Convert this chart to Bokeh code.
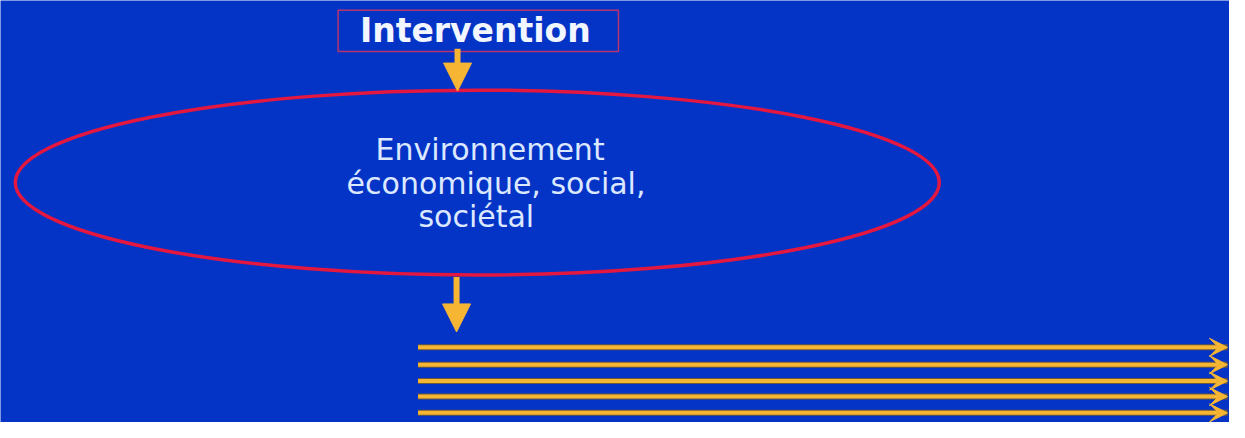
from bokeh.plotting import figure
from bokeh.models import Range1d, Arrow, VeeHead, NormalHead, ColumnDataSource
from bokeh.core.properties import value
from bokeh.embed import file_html
from bokeh.resources import INLINE

# ---- diagram content (reference pixel space, y grows downward) ----
BG = "#0434c6"
ORANGE = "#f6b533"

title_label = ["Intervention"]
title_box_x = [342, 626]          # left, right
title_box_y = [10, 53]            # top, bottom
title_center = [481, 31]

ellipse_center = [483, 189]
ellipse_size = [936, 192]

env_lines = ["Environnement", "économique, social,", "sociétal"]
env_x = [496, 502, 482]
env_y = [155, 190, 224]

down_arrow_x = [463, 462]
down_arrow_y0 = [50, 287]
down_arrow_y1 = [94, 344]

row_y = [360, 378, 395, 411, 428]
row_x0 = [423, 423, 423, 423, 423]
row_x1 = [1243, 1243, 1243, 1243, 1243]

W, H = 1229, 422
p = figure(width=W, height=H, output_backend="svg", toolbar_location=None,
           x_range=Range1d(0, 1245), y_range=Range1d(438, 0),
           min_border=0, background_fill_color=BG, border_fill_color=BG,
           outline_line_color=None)
p.axis.visible = False
p.grid.visible = False

# Intervention box
p.quad(left=[title_box_x[0]], right=[title_box_x[1]], top=[title_box_y[0]],
       bottom=[title_box_y[1]], fill_color=None, line_color="#b8346e", line_width=1.5)
p.text(x=[title_center[0]], y=[title_center[1]], text=title_label,
       text_font=value("DejaVu Sans"), text_font_style="bold", text_font_size="33px",
       text_color="#f2f6ff", text_align="center", text_baseline="middle")

# Ellipse
p.ellipse(x=[ellipse_center[0]], y=[ellipse_center[1]], width=[ellipse_size[0]],
          height=[ellipse_size[1]], fill_color=None, line_color="#e3173f", line_width=3.5)
p.text(x=env_x, y=env_y, text=env_lines, text_font=value("DejaVu Sans"),
       text_font_size="30px", text_color="#dce8ff", text_align="center",
       text_baseline="middle")

# Down arrows
for xa, y0, y1 in zip(down_arrow_x, down_arrow_y0, down_arrow_y1):
    p.add_layout(Arrow(x_start=xa, y_start=y0, x_end=xa, y_end=y1,
                       line_color=ORANGE, line_width=6,
                       end=NormalHead(size=28, fill_color=ORANGE, line_color=ORANGE,
                                      line_width=1)))

# Horizontal arrows
src = ColumnDataSource(dict(x0=row_x0, x1=row_x1, y=row_y))
p.segment(x0="x0", y0="y", x1="x1", y1="y", source=src, line_color="#6b5a3a", line_width=6)
for x0, x1, yy in zip(row_x0, row_x1, row_y):
    p.add_layout(Arrow(x_start=x0, y_start=yy, x_end=x1, y_end=yy,
                       line_color=ORANGE, line_width=4,
                       end=VeeHead(size=18, fill_color=ORANGE, line_color=ORANGE,
                                   line_width=1)))

html = file_html(p, INLINE)
html = html.replace("<body>", '<body style="background-color:%s;">' % BG, 1)
open("out.html", "w").write(html)
